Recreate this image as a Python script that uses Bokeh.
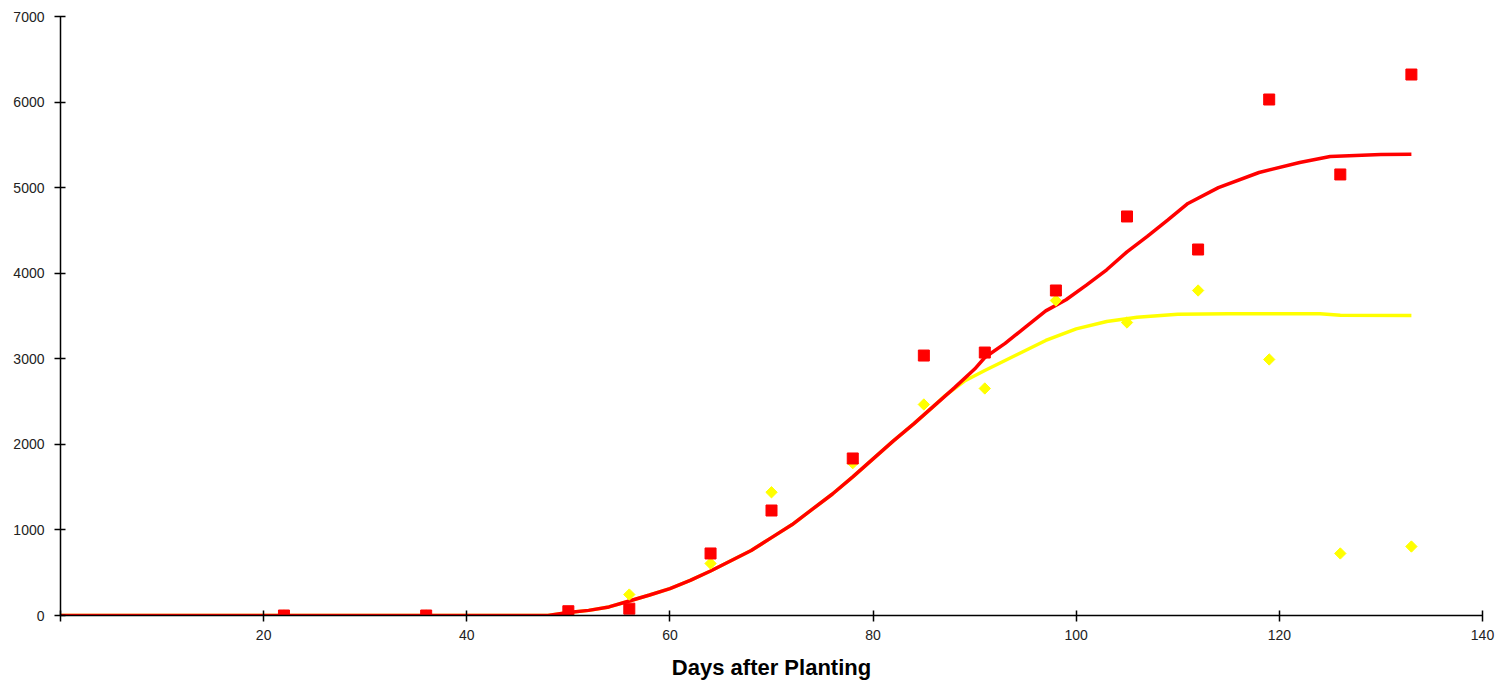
import math
from bokeh.plotting import figure
from bokeh.models import Range1d, FixedTicker
from bokeh.embed import file_html
from bokeh.resources import INLINE

# Observed data
obs_days = [22, 36, 50, 56, 64, 70, 78, 85, 91, 98, 105, 112, 119, 126, 133]
obs_red = [0, 0, 50, 80, 725, 1227, 1835, 3038, 3073, 3798, 4663, 4277, 6030, 5154, 6322]
obs_yellow = [0, 0, 0, 245, 608, 1440, 1780, 2466, 2653, 3681, 3424, 3798, 2992, 725, 806]

# Simulated curves
sim_red_days = [0, 48, 50, 52, 54, 56, 58, 60, 62, 64, 66, 68, 70, 72, 74, 76, 78, 80, 82, 84,
                86, 88, 90, 91, 93, 95, 97, 99, 101, 103, 105, 107, 109, 111, 114, 118, 122,
                125, 130, 133]
sim_red = [0, 0, 35, 60, 100, 170, 240, 315, 410, 520, 640, 760, 910, 1060, 1240, 1420, 1620,
           1830, 2040, 2240, 2450, 2660, 2880, 3015, 3180, 3370, 3560, 3690, 3860, 4040, 4250,
           4430, 4620, 4815, 5000, 5177, 5294, 5364, 5387, 5390]

sim_yellow_days = [0, 48, 50, 52, 54, 56, 58, 60, 62, 64, 66, 68, 70, 72, 74, 76, 78, 80, 82, 84,
                   86, 87, 89, 91, 93, 95, 97, 100, 103, 106, 110, 115, 124, 126, 133]
sim_yellow = [0, 0, 35, 60, 100, 170, 240, 315, 410, 520, 640, 760, 910, 1060, 1240, 1420, 1620,
              1830, 2040, 2240, 2450, 2560, 2740, 2863, 2980, 3097, 3214, 3350, 3436, 3485, 3520,
              3525, 3525, 3510, 3506]

x_ticks = [0, 20, 40, 60, 80, 100, 120, 140]
y_ticks = [0, 1000, 2000, 3000, 4000, 5000, 6000, 7000]

p = figure(width=1497, height=685, output_backend="svg", toolbar_location=None,
           x_range=Range1d(0, 140), y_range=Range1d(0, 7000),
           min_border_left=60, min_border_right=15, min_border_top=16, min_border_bottom=70)
p.outline_line_color = None
p.xgrid.visible = False
p.ygrid.visible = False
p.background_fill_color = "white"

p.line(sim_yellow_days, sim_yellow, line_color="#FFFF00", line_width=3.5)
p.line(sim_red_days, sim_red, line_color="#FF0000", line_width=3.5)
p.scatter(obs_days, obs_yellow, marker="square", size=8, angle=math.pi / 4,
          fill_color="#FFFF00", line_color="#FFFF00")
p.scatter(obs_days, obs_red, marker="square", size=11, fill_color="#FF0000",
          line_color="#FF0000")

for ax in (p.xaxis[0], p.yaxis[0]):
    ax.axis_line_color = "black"
    ax.axis_line_width = 1.5
    ax.major_tick_line_color = "black"
    ax.major_tick_line_width = 1.5
    ax.major_tick_in = 5
    ax.major_tick_out = 6
    ax.minor_tick_line_color = None
    ax.major_label_text_font = "Liberation Sans"
    ax.major_label_text_font_size = "14px"
    ax.major_label_text_color = "#222222"

p.xaxis.ticker = FixedTicker(ticks=x_ticks)
p.yaxis.ticker = FixedTicker(ticks=y_ticks)
p.xaxis.major_label_overrides = {0: ""}
p.xaxis.major_label_standoff = 8
p.yaxis.major_label_standoff = 10

p.xaxis.axis_label = "Days after Planting"
p.xaxis.axis_label_text_font = "Liberation Sans"
p.xaxis.axis_label_text_font_style = "bold"
p.xaxis.axis_label_text_font_size = "22px"
p.xaxis.axis_label_text_color = "black"
p.xaxis.axis_label_standoff = 12

open("out.html", "w").write(file_html(p, INLINE))
